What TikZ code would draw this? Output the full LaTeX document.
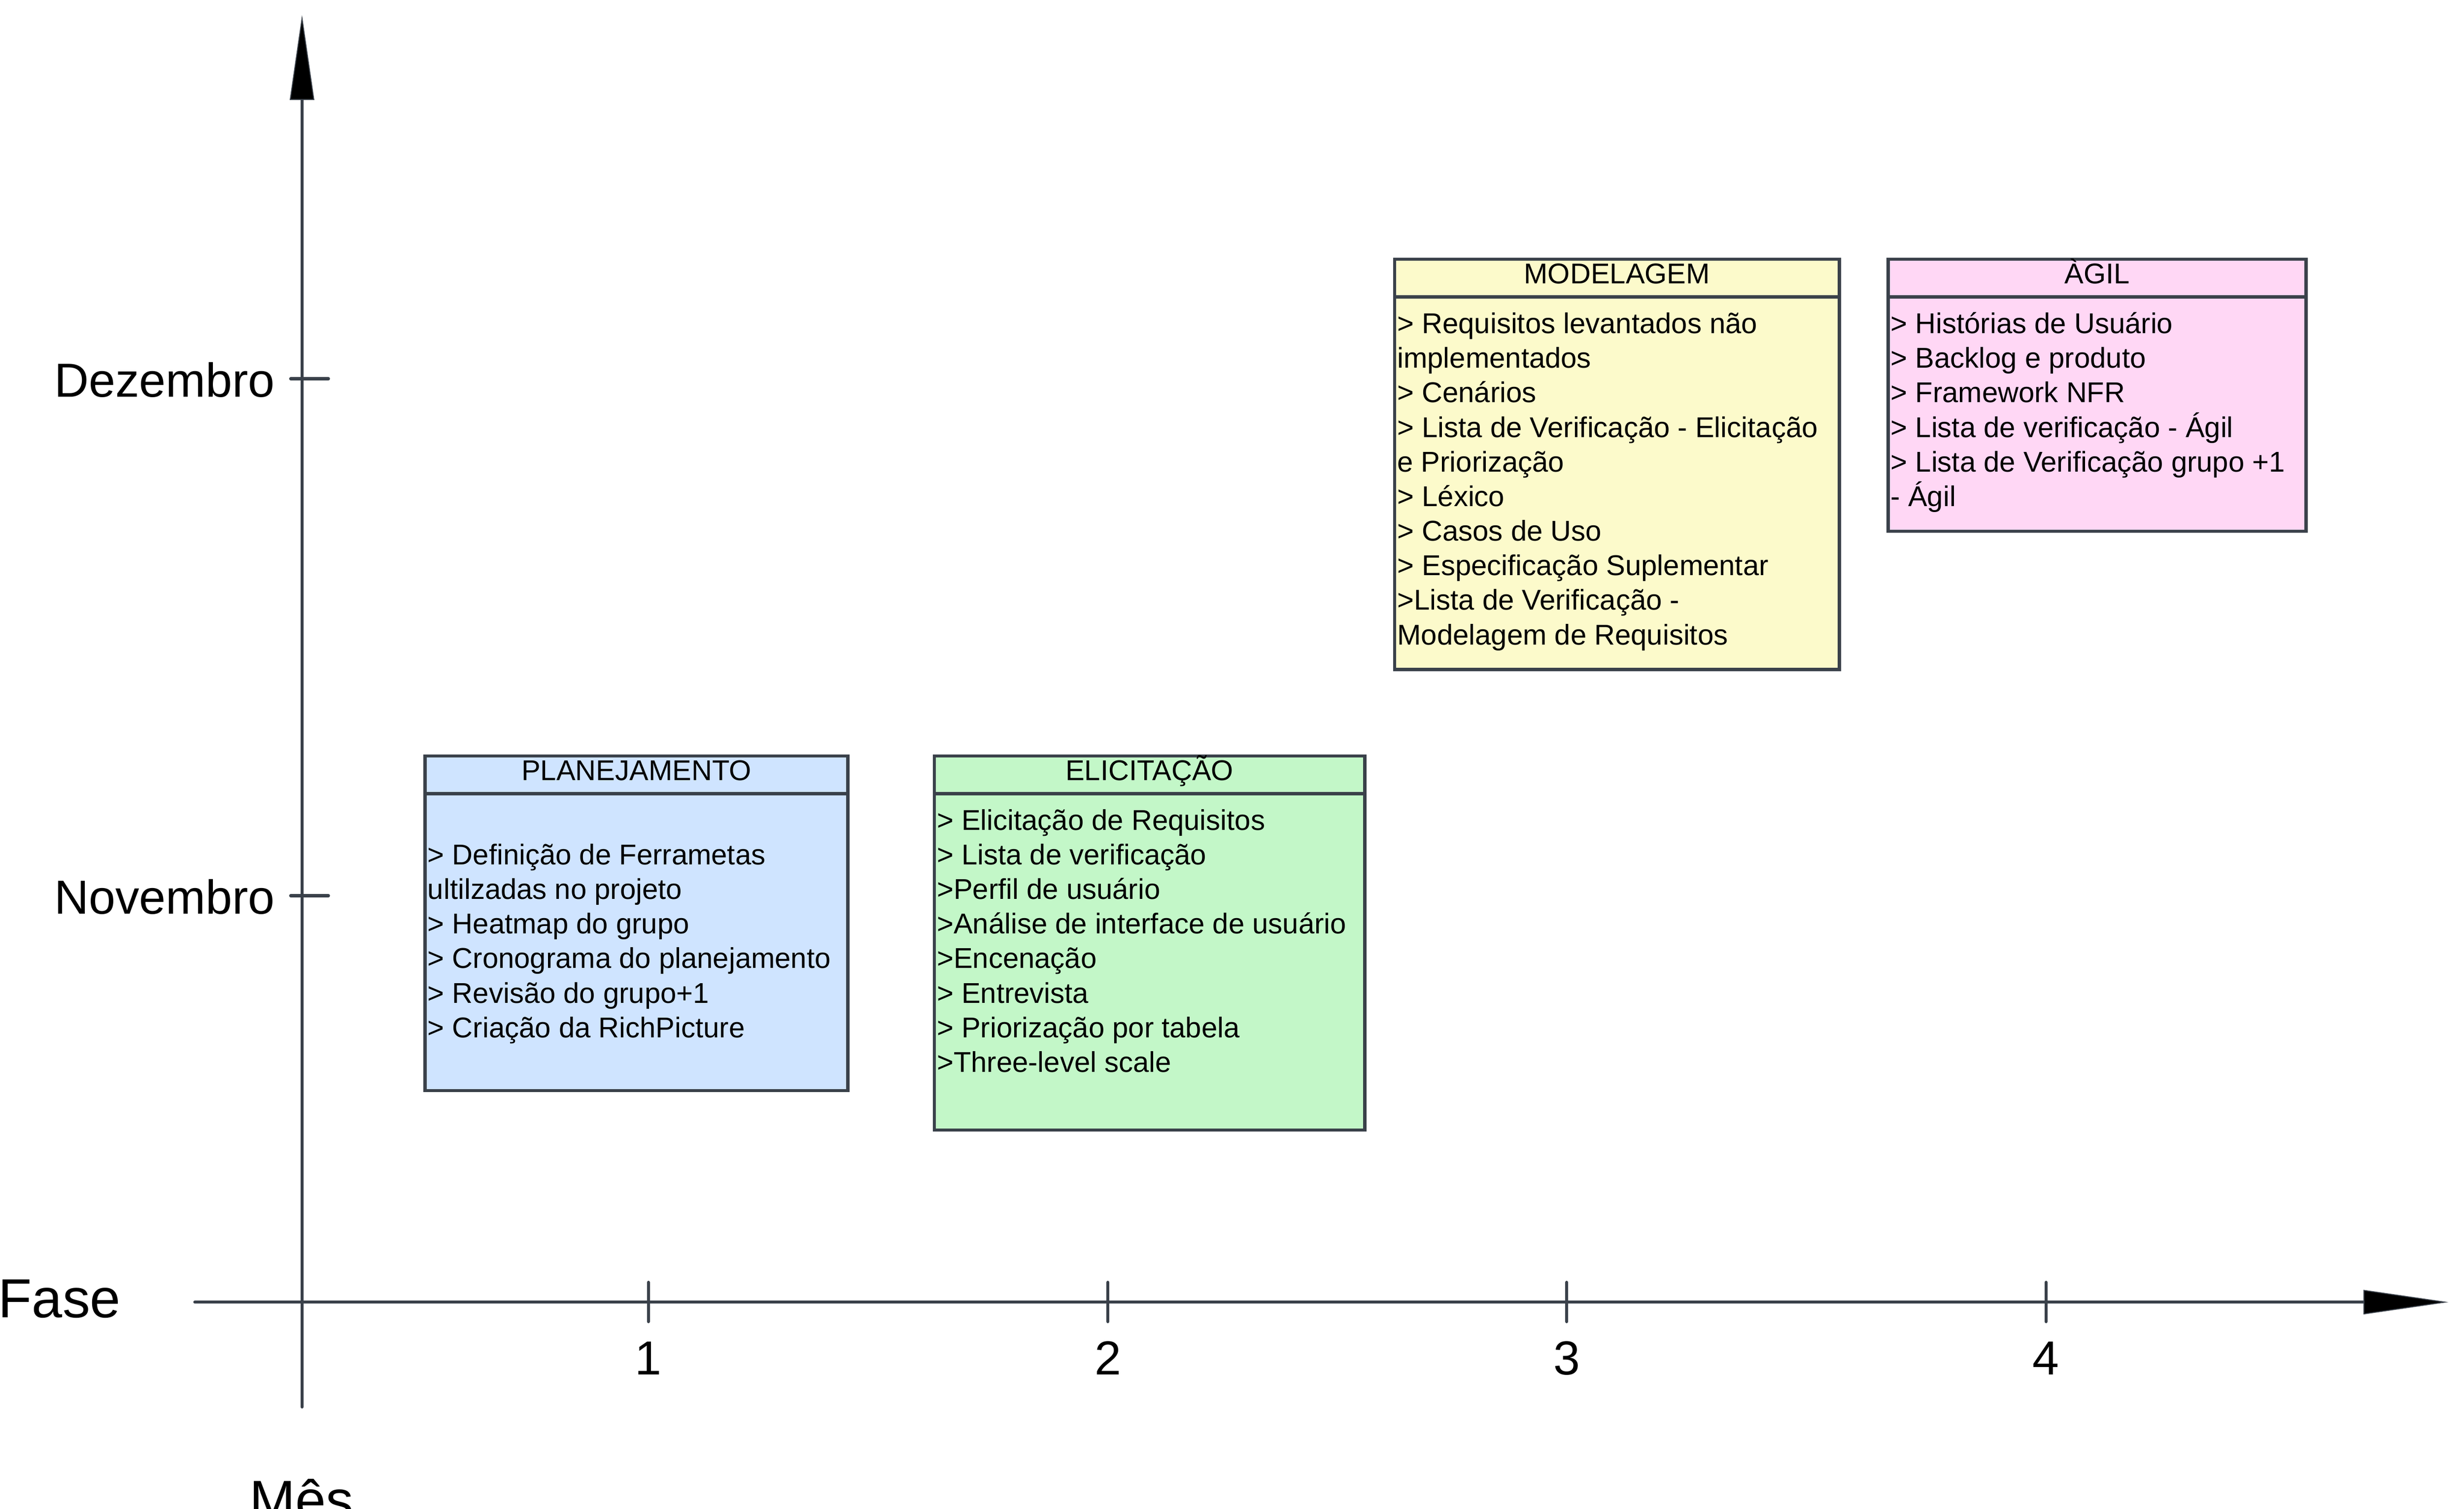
\documentclass[tikz,border=0pt]{standalone}
\usepackage{fontspec}
\setmainfont{Liberation Sans}
\usetikzlibrary{arrows.meta, calc}

\definecolor{axisgray}{HTML}{3A414A}
\definecolor{planblue}{HTML}{CFE4FF}
\definecolor{elicgreen}{HTML}{C3F7C8}
\definecolor{modyellow}{HTML}{FCFACB}
\definecolor{agilpink}{HTML}{FFD7F5}

\begin{document}
\begin{tikzpicture}[x=1pt, y=-1pt,
    axis/.style={draw=axisgray, line width=2pt, line cap=round},
    axistip/.style={-{Triangle[length=54pt, width=15.5pt, line width=0.6pt, fill=black]}},
    phase/.style={draw=axisgray, line width=2pt, anchor=north west, inner sep=0pt},
    phaseline/.style={draw=axisgray, line width=2pt},
    phasetitle/.style={anchor=base, inner sep=0pt, font=\fontsize{18.2}{22}\selectfont},
    phaseitems/.style={anchor=north west, align=left, inner sep=0pt, font=\fontsize{18.2}{22}\selectfont},
    ticklabel/.style={inner sep=0pt, font=\fontsize{30.4}{36}\selectfont},
    axislabel/.style={inner sep=0pt, font=\fontsize{35}{42}\selectfont}]
  \useasboundingbox (0,0) rectangle (1568,960);

  % Draw the axes
  \coordinate (ystart) at (192.2,895.3);
  \coordinate (yend) at (192.2,9.6);
  \coordinate (xstart) at (124,828.6);
  \coordinate (xend) at (1558,828.6);
  \draw[axis, axistip] (ystart) -- (yend);
  \draw[axis, axistip] (xstart) -- (xend);

  % Mark and label the months
  \foreach \x/\m in {412.6/1, 705/2, 997/3, 1302/4}
  {
    \draw[axis] (\x,816) -- (\x,841);
    \node[ticklabel, anchor=base] (mes\m) at (\x,874.7) {\m};
  }

  % Mark and label the phases
  \foreach \y/\name/\lab in {241/dez/Dezembro, 570/nov/Novembro}
  {
    \draw[axis] (185,\y) -- (209,\y);
    \node[ticklabel, anchor=base east] (\name) at (175,{\y+11.7}) {\lab};
  }

  % Axis names
  \node[axislabel, anchor=base east] (fase) at (77,838.4) {Fase};
  \node[axislabel, anchor=base west] (mes) at (158.5,966.7) {Mês};

  % PLANEJAMENTO
  \node[phase, fill=planblue, minimum width=269pt, minimum height=213pt] (plan) at (269.5,480) {};
  \draw[phaseline] ($(plan.north west)+(0,25)$) -- ($(plan.north east)+(0,25)$);
  \node[phasetitle] (plantitle) at ($(plan.north)+(0,16.5)$) {PLANEJAMENTO};
  \node[phaseitems] (planitems) at ($(plan.north west)+(2.5,53)$)
    {\rule{0pt}{17pt}> Definição de Ferrametas\\ultilzadas no projeto\\> Heatmap do grupo\\> Cronograma do planejamento\\> Revisão do grupo+1\\> Criação da RichPicture};

  % ELICITAÇÃO
  \node[phase, fill=elicgreen, minimum width=274pt, minimum height=238pt] (elic) at (593.5,480) {};
  \draw[phaseline] ($(elic.north west)+(0,25)$) -- ($(elic.north east)+(0,25)$);
  \node[phasetitle] (elictitle) at ($(elic.north)+(0,16.5)$) {ELICITAÇÃO};
  \node[phaseitems] (elicitems) at ($(elic.north west)+(2.5,31)$)
    {\rule{0pt}{17pt}> Elicitação de Requisitos\\> Lista de verificação\\>Perfil de usuário\\>Análise de interface de usuário\\>Encenação\\> Entrevista\\> Priorização por tabela\\>Three-level scale};

  % MODELAGEM
  \node[phase, fill=modyellow, minimum width=283pt, minimum height=261pt] (mod) at (886.5,164) {};
  \draw[phaseline] ($(mod.north west)+(0,25)$) -- ($(mod.north east)+(0,25)$);
  \node[phasetitle] (modtitle) at ($(mod.north)+(0,16.5)$) {MODELAGEM};
  \node[phaseitems] (moditems) at ($(mod.north west)+(2.5,31)$)
    {\rule{0pt}{17pt}> Requisitos levantados não\\implementados\\> Cenários\\> Lista de Verificação - Elicitação\\e Priorização\\> Léxico\\> Casos de Uso\\> Especificação Suplementar\\>Lista de Verificação -\\Modelagem de Requisitos};

  % ÀGIL
  \node[phase, fill=agilpink, minimum width=266pt, minimum height=173pt] (agil) at (1200.5,164) {};
  \draw[phaseline] ($(agil.north west)+(0,25)$) -- ($(agil.north east)+(0,25)$);
  \node[phasetitle] (agiltitle) at ($(agil.north)+(0,16.5)$) {ÀGIL};
  \node[phaseitems] (agilitems) at ($(agil.north west)+(2.5,31)$)
    {\rule{0pt}{17pt}> Histórias de Usuário\\> Backlog e produto\\> Framework NFR\\> Lista de verificação - Ágil\\> Lista de Verificação grupo +1\\- Ágil};
\end{tikzpicture}
\end{document}
